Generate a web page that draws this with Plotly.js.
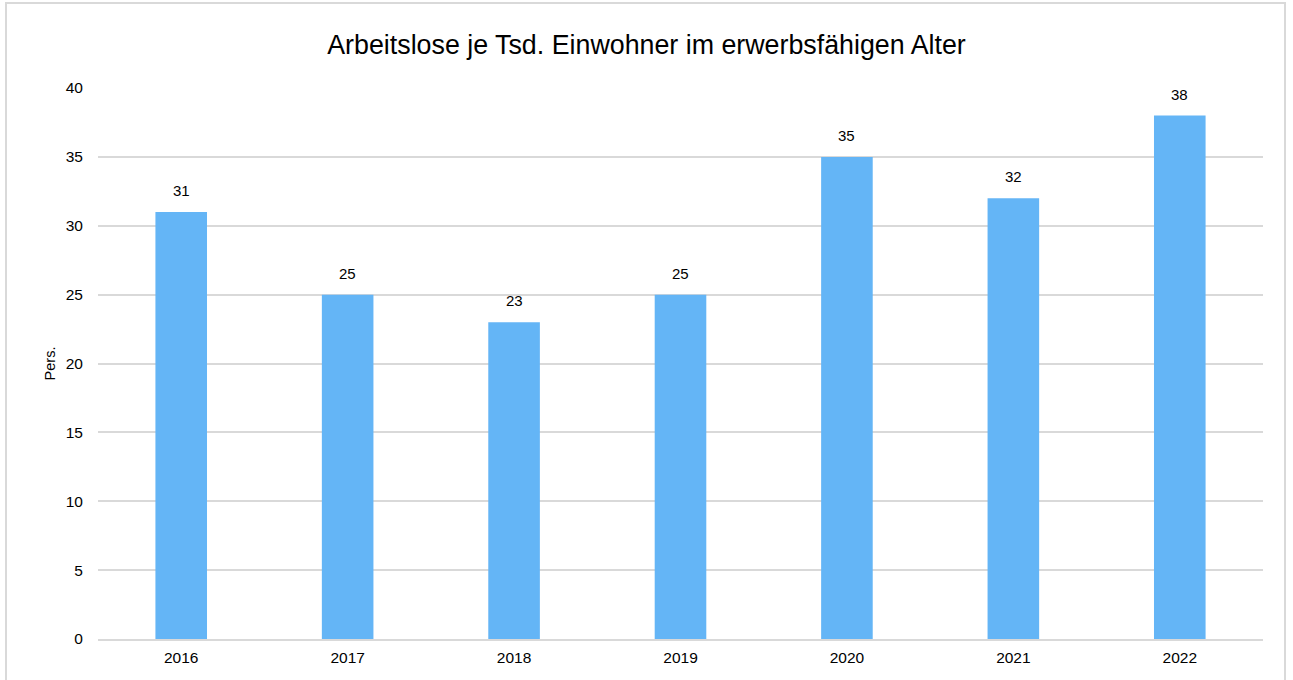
<!DOCTYPE html>
<html><head><meta charset="utf-8">
<script src="https://cdn.plot.ly/plotly-3.0.1.min.js"></script>
<style>
html,body{margin:0;padding:0;background:#fff;}
#frame{position:absolute;left:5px;top:2px;width:1281px;height:700px;border:2px solid #d9d9d9;box-sizing:border-box;pointer-events:none;z-index:5;}
#chart{position:absolute;left:0;top:0;width:1293px;height:680px;}
</style></head>
<body>
<div id="chart"></div><div id="frame"></div>
<script>
const years = ["2016","2017","2018","2019","2020","2021","2022"];
const values = [31,25,23,25,35,32,38];
const labels = values.map(v => String(v));

const trace = {
  type: 'bar', x: years, y: values,
  marker: {color: '#64B5F6'},
  hoverinfo: 'none'
};
const annotations = years.map((yr, i) => ({
  x: i, y: values[i], text: labels[i], showarrow: false,
  xref: 'x', yref: 'y',
  xanchor: 'center', yanchor: 'bottom', yshift: 11,
  font: {family: 'Liberation Sans, Arial, sans-serif', size: 15, color: '#000'}
}));
const layout = {
  width: 1293, height: 680,
  margin: {l: 98, r: 30, t: 88, b: 41},
  paper_bgcolor: '#fff', plot_bgcolor: '#fff',
  bargap: 0.69,
  showlegend: false,
  title: {text: 'Arbeitslose je Tsd. Einwohner im erwerbsfähigen Alter', x: 0.5, xanchor: 'center', y: 0.935, yanchor: 'middle',
          font: {family: 'Liberation Sans, Arial, sans-serif', size: 26.8, color: '#000'}},
  font: {family: 'Liberation Sans, Arial, sans-serif', size: 15, color: '#000'},
  xaxis: {type: 'category', range: [-0.5, 6.5], autorange: false, showgrid: false, showline: true, linecolor: '#d9d9d9', linewidth: 2,
          ticks: 'outside', ticklen: 3, tickcolor: 'rgba(0,0,0,0)', tickfont: {size: 15.5}, fixedrange: true},
  yaxis: {range: [0, 40], autorange: false, dtick: 5, showgrid: true, gridcolor: '#d9d9d9', gridwidth: 2,
          zeroline: false, ticks: 'outside', ticklen: 11, tickcolor: 'rgba(0,0,0,0)', tickfont: {size: 15.5},
          title: {text: 'Pers.', font: {size: 14.5}, standoff: 6}, fixedrange: true},
  annotations: annotations
};
Plotly.newPlot('chart', [trace], layout, {displayModeBar: false, staticPlot: true});
</script>
</body></html>
